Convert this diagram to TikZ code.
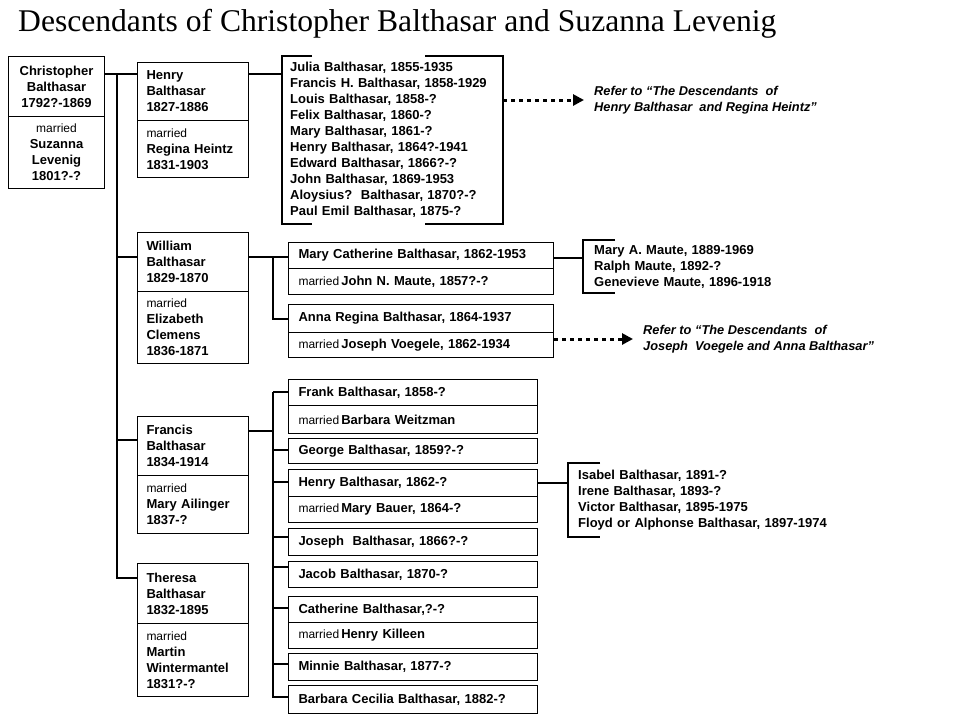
\documentclass[tikz,border=0pt]{standalone}
\usepackage{fontspec}
\setmainfont{Liberation Sans}
\newfontfamily\titlefont{Liberation Serif}
\usetikzlibrary{arrows.meta}
\newcommand{\married}{{\mdseries\fontsize{12}{16}\selectfont married}}

\tikzset{
  box/.style={draw,line width=1pt,anchor=north west,inner xsep=9pt,inner ysep=0pt,
    align=left,font=\bfseries\fontsize{13}{16}\selectfont},
  parent/.style={box,minimum width=111,text width=93},
  kid/.style={box,minimum width=265,text width=245,inner xsep=10pt},
  fkid/.style={box,minimum width=249,text width=229,inner xsep=10pt},
  list/.style={anchor=north west,inner xsep=8pt,inner ysep=0pt,align=left,
    font=\bfseries\fontsize{13}{16}\selectfont},
  conn/.style={line width=2pt},
  refer/.style={anchor=west,inner sep=0pt,align=left,
    font=\bfseries\itshape\fontsize{12.8}{16}\selectfont},
  refarrow/.style={line width=3pt,dash pattern=on 4pt off 4pt,
    -{Triangle[length=11pt,width=11pt]},shorten >=10pt}
}

\begin{document}
\begin{tikzpicture}[x=1pt,y=-1pt]
  \useasboundingbox (0,0) rectangle (960,720);
  \node[anchor=base west,inner sep=0pt,font=\titlefont\fontsize{31.6}{36}\selectfont] (title)
        at (18,31) {Descendants of Christopher Balthasar and Suzanna Levenig};

  % Christopher and Suzanna
  \node[box,align=center,minimum width=96,text width=78,minimum height=60] (chrisT)
        at (8,56) {Christopher\\Balthasar\\1792?-1869};
  \node[box,align=center,minimum width=96,text width=78,minimum height=72] (chrisB)
        at (8,116) {\married\\Suzanna\\Levenig\\1801?-?};

  % their children
  \node[parent,minimum height=58] (henryT) at (137,62) {Henry\\Balthasar\\1827-1886};
  \node[parent,minimum height=57] (henryB) at (137,120) {\married\\Regina Heintz\\1831-1903};
  \node[parent,minimum height=59] (williamT) at (137,232) {William\\Balthasar\\1829-1870};
  \node[parent,minimum height=72] (williamB) at (137,291) {\married\\Elizabeth\\Clemens\\1836-1871};
  \node[parent,minimum height=59] (francisT) at (137,416) {Francis\\Balthasar\\1834-1914};
  \node[parent,minimum height=58] (francisB) at (137,475) {\married\\Mary Ailinger\\1837-?};
  \node[parent,minimum height=60] (theresaT) at (137,563) {Theresa\\Balthasar\\1832-1895};
  \node[parent,minimum height=73] (theresaB) at (137,623) {\married\\Martin\\Wintermantel\\1831?-?};

  \coordinate (trunk) at (117,74);
  \draw[conn] (chrisT.east |- trunk) -- (henryT.west |- trunk);
  \draw[conn] (trunk) |- ([yshift=-15pt]theresaT.north west);
  \draw[conn] ([yshift=-25pt]williamT.north west) -| (trunk);
  \draw[conn] ([yshift=-24pt]francisT.north west) -| (trunk);

  % Henry's children
  \node[list,minimum width=221,minimum height=168,text width=205] (hkids) at (282,56)
        {Julia Balthasar, 1855-1935\\Francis H. Balthasar, 1858-1929\\
         Louis Balthasar, 1858-?\\Felix Balthasar, 1860-?\\Mary Balthasar, 1861-?\\
         Henry Balthasar, 1864?-1941\\Edward Balthasar, 1866?-?\\
         John Balthasar, 1869-1953\\Aloysius?\ \ Balthasar, 1870?-?\\
         Paul Emil Balthasar, 1875-?};
  \draw[conn] ([xshift=30pt]hkids.north west) -- (hkids.north west)
        -- (hkids.south west) -- ([xshift=30pt]hkids.south west);
  \draw[conn] ([xshift=-78pt]hkids.north east) -- (hkids.north east)
        -- (hkids.south east) -- ([xshift=-78pt]hkids.south east);
  \draw[conn] ([yshift=-12pt]henryT.north east) -- ([yshift=-18pt]hkids.north west);
  \node[refer] (href) at (594,100)
        {Refer to “The Descendants\ \ of\\Henry Balthasar\ \ and Regina Heintz”};
  \draw[refarrow] (hkids.east |- href.west) -- (href.west);

  % William's children
  \node[kid,minimum height=26] (mcT) at (288,242) {Mary Catherine Balthasar, 1862-1953};
  \node[kid,minimum height=26] (mcB) at (288,268) {\married\,John N. Maute, 1857?-?};
  \node[kid,minimum height=28] (annaT) at (288,304) {Anna Regina Balthasar, 1864-1937};
  \node[kid,minimum height=25] (annaB) at (288,332) {\married\,Joseph Voegele, 1862-1934};
  \coordinate (wtrunk) at (273,257);
  \draw[conn] ([yshift=-25pt]williamT.north east) -- (mcT.west |- wtrunk);
  \draw[conn] (wtrunk) |- (annaT.west);

  \node[list,inner xsep=11pt,minimum height=53,text width=180] (mkids) at (583,240)
        {Mary A. Maute, 1889-1969\\Ralph Maute, 1892-?\\Genevieve Maute, 1896-1918};
  \draw[conn] ([xshift=32pt]mkids.north west) -- (mkids.north west)
        -- (mkids.south west) -- ([xshift=32pt]mkids.south west);
  \draw[conn] ([yshift=-16pt]mcT.north east) -| (mkids.north west);
  \node[refer] (aref) at (643,339)
        {Refer to “The Descendants\ \ of\\Joseph\ \ Voegele and Anna Balthasar”};
  \draw[refarrow] (annaB.east |- aref.west) -- (aref.west);

  % Francis' children
  \node[fkid,minimum height=26] (frankT) at (288,379) {Frank Balthasar, 1858-?};
  \node[fkid,minimum height=28] (frankB) at (288,405) {\married\,Barbara Weitzman};
  \node[fkid,minimum height=25] (georgeT) at (288,438) {George Balthasar, 1859?-?};
  \node[fkid,minimum height=27] (henryK) at (288,469) {Henry Balthasar, 1862-?};
  \node[fkid,minimum height=26] (henryKB) at (288,496) {\married\,Mary Bauer, 1864-?};
  \node[fkid,minimum height=27] (josephT) at (288,528) {Joseph\ \ Balthasar, 1866?-?};
  \node[fkid,minimum height=26] (jacobT) at (288,561) {Jacob Balthasar, 1870-?};
  \node[fkid,minimum height=26] (cathT) at (288,596) {Catherine Balthasar,?-?};
  \node[fkid,minimum height=26] (cathB) at (288,622) {\married\,Henry Killeen};
  \node[fkid,minimum height=27] (minnieT) at (288,653) {Minnie Balthasar, 1877-?};
  \node[fkid,minimum height=28] (barbaraT) at (288,685) {Barbara Cecilia Balthasar, 1882-?};

  \coordinate (ftrunk) at (273,392);
  \draw[conn] ([yshift=-15pt]francisT.north east) -| (ftrunk);
  \draw[conn] (ftrunk) |- ([yshift=-12pt]barbaraT.north west);
  \foreach \k/\s in {frankT/13,georgeT/12,henryK/13,josephT/9,jacobT/6,cathT/12,minnieT/11}
    \draw[conn] ([yshift=-\s pt]\k.north west) -| (ftrunk);

  \node[list,inner xsep=10pt,minimum height=74,text width=260] (hhkids) at (568,463)
        {Isabel Balthasar, 1891-?\\Irene Balthasar, 1893-?\\Victor Balthasar, 1895-1975\\
         Floyd or Alphonse Balthasar, 1897-1974};
  \draw[conn] ([xshift=32pt]hhkids.north west) -- (hhkids.north west)
        -- (hhkids.south west) -- ([xshift=32pt]hhkids.south west);
  \draw[conn] ([yshift=-14pt]henryK.north east) -| (hhkids.north west);
\end{tikzpicture}
\end{document}
